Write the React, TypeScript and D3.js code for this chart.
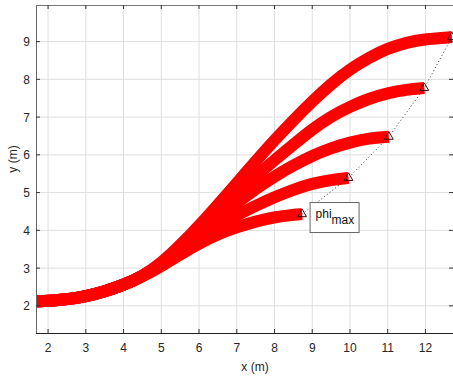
import React, { useEffect, useRef } from 'react';
import * as d3 from 'd3';

const WIDTH = 453;
const HEIGHT = 379;
const margin = { top: 5, right: 0, bottom: 46, left: 36 };

// shared start of all paths
const trunk: [number, number][] = [
  [1.7, 2.12], [2, 2.13], [2.5, 2.17], [3, 2.25], [3.5, 2.38], [4, 2.55], [4.5, 2.78],
];

const path1: [number, number][] = [
  [5, 3.05], [5.5, 3.36], [6, 3.65], [6.5, 3.9], [7, 4.08], [7.5, 4.24], [8, 4.35], [8.4, 4.4], [8.73, 4.43],
];
const path2: [number, number][] = [
  [5, 3.07], [5.5, 3.4], [6, 3.76], [6.5, 4.1], [7, 4.4], [7.5, 4.65], [8, 4.88], [8.5, 5.08],
  [9, 5.24], [9.5, 5.34], [9.96, 5.39],
];
const path3: [number, number][] = [
  [5, 3.09], [5.5, 3.46], [6, 3.88], [6.5, 4.3], [7, 4.72], [7.5, 5.1], [8, 5.43], [8.5, 5.72],
  [9, 5.98], [9.5, 6.18], [10, 6.33], [10.5, 6.44], [11.03, 6.48],
];
const path4: [number, number][] = [
  [5, 3.11], [5.5, 3.53], [6, 4.0], [6.5, 4.48], [7, 4.97], [7.5, 5.43], [8, 5.86], [8.5, 6.27],
  [9, 6.68], [9.5, 7.02], [10, 7.28], [10.5, 7.49], [11, 7.64], [11.5, 7.73], [11.97, 7.77],
];
const path5: [number, number][] = [
  [5, 3.13], [5.5, 3.6], [6, 4.12], [6.5, 4.68], [7, 5.25], [7.5, 5.83], [8, 6.39], [8.5, 6.92],
  [9, 7.42], [9.5, 7.88], [10, 8.27], [10.5, 8.58], [11, 8.82], [11.5, 8.98], [12, 9.07], [12.7, 9.12],
];

const xTicks = [2, 3, 4, 5, 6, 7, 8, 9, 10, 11, 12];
const yTicks = [2, 3, 4, 5, 6, 7, 8, 9];
const xDomain = [1.68, 12.73];
const yDomain = [1.28, 9.97];

// label box anchor (data units)
const labelAnchor: [number, number] = [8.93, 4.75];

const TEXT = '#262626';
const FONT = '"Liberation Sans", Arial, sans-serif';

export default function App() {
  const ref = useRef<SVGSVGElement>(null);

  useEffect(() => {
    document.body.style.margin = '0';
    const svg = d3.select(ref.current);
    svg.selectAll('*').remove();

    const x = d3.scaleLinear().domain(xDomain).range([margin.left, WIDTH - margin.right]);
    const y = d3.scaleLinear().domain(yDomain).range([HEIGHT - margin.bottom, margin.top]);
    const x0 = margin.left, x1 = WIDTH - margin.right;
    const y0 = HEIGHT - margin.bottom, y1 = margin.top;

    svg.append('rect').attr('width', WIDTH).attr('height', HEIGHT).attr('fill', '#fff');

    // grid
    const grid = svg.append('g').attr('stroke', '#dfdfdf').attr('stroke-width', 1);
    grid.selectAll('line.gx').data(xTicks).enter().append('line')
      .attr('x1', d => x(d)).attr('x2', d => x(d)).attr('y1', y0).attr('y2', y1);
    grid.selectAll('line.gy').data(yTicks).enter().append('line')
      .attr('y1', d => y(d)).attr('y2', d => y(d)).attr('x1', x0).attr('x2', x1);

    // curves
    const line = d3.line<[number, number]>()
      .x(d => x(d[0])).y(d => y(d[1]))
      .curve(d3.curveBasis);
    const paths = [path1, path2, path3, path4, path5];
    svg.append('g').selectAll('path').data(paths).enter().append('path')
      .attr('d', d => line(trunk.concat(d)))
      .attr('fill', 'none')
      .attr('stroke', '#ff0000')
      .attr('stroke-width', 12);

    // end points
    const ends = paths.map(p => p[p.length - 1]);
    svg.append('path')
      .attr('d', d3.line<[number, number]>().x(d => x(d[0])).y(d => y(d[1]))(ends))
      .attr('fill', 'none')
      .attr('stroke', '#333')
      .attr('stroke-width', 1)
      .attr('stroke-dasharray', '1,2.5');
    svg.append('g').selectAll('path').data(ends).enter().append('path')
      .attr('d', d3.symbol(d3.symbolTriangle, 34)())
      .attr('transform', d => `translate(${x(d[0])},${y(d[1])})`)
      .attr('fill', 'none')
      .attr('stroke', '#3a0a0a')
      .attr('stroke-width', 1);

    // axes box
    const axis = svg.append('g').attr('stroke', '#4d4d4d').attr('fill', 'none');
    axis.append('line').attr('x1', x0).attr('x2', x1).attr('y1', y1 + 0.5).attr('y2', y1 + 0.5).attr('stroke', '#777');
    axis.append('line').attr('x1', x0 + 0.5).attr('x2', x0 + 0.5).attr('y1', y1).attr('y2', y0).attr('stroke', '#666');
    axis.append('line').attr('x1', x0).attr('x2', x1).attr('y1', y0 + 0.5).attr('y2', y0 + 0.5).attr('stroke', '#222');

    // ticks (inward)
    const tk = svg.append('g').attr('stroke', '#333').attr('stroke-width', 1);
    xTicks.forEach(t => {
      tk.append('line').attr('x1', x(t)).attr('x2', x(t)).attr('y1', y0).attr('y2', y0 - 4);
      tk.append('line').attr('x1', x(t)).attr('x2', x(t)).attr('y1', y1).attr('y2', y1 + 4);
    });
    yTicks.forEach(t => {
      tk.append('line').attr('x1', x0).attr('x2', x0 + 4).attr('y1', y(t)).attr('y2', y(t));
      tk.append('line').attr('x1', x1).attr('x2', x1 - 4).attr('y1', y(t)).attr('y2', y(t));
    });

    // tick labels
    svg.append('g').selectAll('text').data(xTicks).enter().append('text')
      .attr('x', d => x(d)).attr('y', y0 + 19)
      .attr('text-anchor', 'middle')
      .attr('font-family', FONT).attr('font-size', 12).attr('fill', TEXT)
      .text(d => d);
    svg.append('g').selectAll('text').data(yTicks).enter().append('text')
      .attr('x', x0 - 6).attr('y', d => y(d) + 4.5)
      .attr('text-anchor', 'end')
      .attr('font-family', FONT).attr('font-size', 12).attr('fill', TEXT)
      .text(d => d);

    // axis labels
    svg.append('text')
      .attr('x', 255).attr('y', 371)
      .attr('text-anchor', 'middle')
      .attr('font-family', FONT).attr('font-size', 12).attr('fill', TEXT)
      .text('x (m)');
    svg.append('text')
      .attr('transform', `translate(17,159) rotate(-90)`)
      .attr('text-anchor', 'middle')
      .attr('font-family', FONT).attr('font-size', 12).attr('fill', TEXT)
      .text('y (m)');

    // phi_max label box
    const bx = x(labelAnchor[0]), by = y(labelAnchor[1]);
    svg.append('rect')
      .attr('x', bx + 0.5).attr('y', by + 0.5).attr('width', 49).attr('height', 30)
      .attr('fill', '#fff').attr('stroke', '#666').attr('stroke-width', 1);
    const lbl = svg.append('text')
      .attr('x', bx + 6).attr('y', by + 16)
      .attr('font-family', FONT).attr('font-size', 12).attr('fill', '#111');
    lbl.append('tspan').text('phi');
    lbl.append('tspan').attr('dy', 6).text('max');
  }, []);

  return <svg ref={ref} width={WIDTH} height={HEIGHT} style={{ display: 'block' }} />;
}
